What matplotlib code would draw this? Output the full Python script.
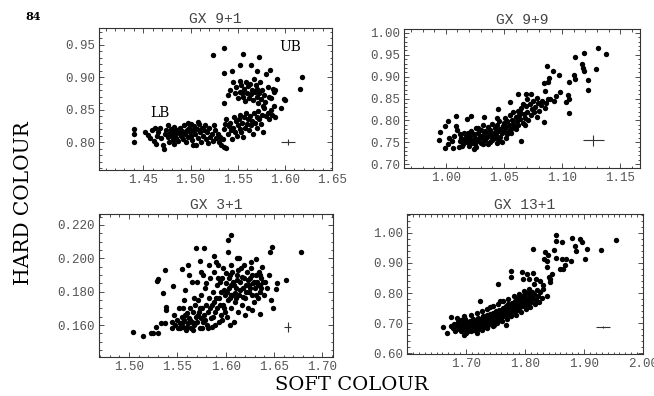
import numpy as np
import matplotlib
matplotlib.use("Agg")
import matplotlib.pyplot as plt
from matplotlib.ticker import MultipleLocator, FormatStrFormatter

# ---------------- data ----------------
gx91_soft = [1.440, 1.440, 1.440, 1.452, 1.455, 1.457, 1.459, 1.461, 1.463, 1.465,
             1.466, 1.468, 1.469, 1.471, 1.472, 1.473, 1.474, 1.476, 1.477, 1.478,
             1.479, 1.480, 1.481, 1.482, 1.483, 1.484, 1.485, 1.486, 1.487, 1.488,
             1.489, 1.490, 1.491, 1.492, 1.493, 1.494, 1.495, 1.496, 1.497, 1.498,
             1.499, 1.500, 1.501, 1.502, 1.503, 1.504, 1.505, 1.506, 1.507, 1.508,
             1.509, 1.510, 1.511, 1.512, 1.513, 1.514, 1.515, 1.516, 1.518, 1.520,
             1.521, 1.523, 1.524, 1.526, 1.527, 1.529, 1.530, 1.531, 1.532, 1.534,
             1.535, 1.538, 1.476, 1.482, 1.497, 1.503, 1.508, 1.519, 1.525, 1.462,
             1.535, 1.537, 1.538, 1.540, 1.541, 1.542, 1.543, 1.544, 1.545, 1.546,
             1.547, 1.548, 1.549, 1.550, 1.551, 1.552, 1.553, 1.554, 1.555, 1.556,
             1.557, 1.558, 1.559, 1.560, 1.561, 1.562, 1.563, 1.564, 1.565, 1.566,
             1.567, 1.568, 1.570, 1.571, 1.572, 1.573, 1.575, 1.576, 1.577, 1.578,
             1.580, 1.582, 1.583, 1.585, 1.586, 1.588, 1.590,
             1.535, 1.535, 1.544, 1.540, 1.542, 1.545, 1.547, 1.548, 1.550, 1.552,
             1.553, 1.554, 1.555, 1.556, 1.557, 1.558, 1.559, 1.560, 1.561, 1.562,
             1.563, 1.564, 1.565, 1.566, 1.567, 1.568, 1.569, 1.570, 1.571, 1.572,
             1.573, 1.574, 1.575, 1.576, 1.577, 1.578, 1.579, 1.580, 1.582, 1.583,
             1.585, 1.588, 1.590, 1.592, 1.596, 1.599, 1.600, 1.552, 1.564, 1.570,
             1.584, 1.524, 1.536, 1.556, 1.573, 1.616, 1.618, 1.587]
gx91_hard = [0.820, 0.813, 0.800, 0.815, 0.811, 0.806, 0.818, 0.802, 0.797, 0.810,
             0.816, 0.822, 0.806, 0.795, 0.790, 0.812, 0.818, 0.808, 0.800, 0.814,
             0.820, 0.810, 0.804, 0.816, 0.824, 0.812, 0.807, 0.819, 0.802, 0.814,
             0.822, 0.810, 0.817, 0.805, 0.826, 0.812, 0.800, 0.818, 0.808, 0.822,
             0.815, 0.828, 0.810, 0.803, 0.818, 0.825, 0.812, 0.795, 0.820, 0.807,
             0.828, 0.815, 0.800, 0.822, 0.810, 0.818, 0.826, 0.805, 0.815, 0.822,
             0.808, 0.812, 0.802, 0.818, 0.806, 0.812, 0.800, 0.808, 0.795, 0.805,
             0.792, 0.791, 0.826, 0.797, 0.830, 0.795, 0.831, 0.798, 0.826, 0.822,
             0.820, 0.828, 0.835, 0.812, 0.825, 0.830, 0.818, 0.805, 0.822, 0.838,
             0.815, 0.832, 0.810, 0.826, 0.836, 0.820, 0.842, 0.815, 0.830, 0.808,
             0.838, 0.822, 0.845, 0.828, 0.835, 0.818, 0.840, 0.826, 0.832, 0.812,
             0.845, 0.830, 0.838, 0.822, 0.848, 0.835, 0.828, 0.842, 0.815, 0.852,
             0.840, 0.845, 0.835, 0.850, 0.842, 0.856, 0.838,
             0.861, 0.907, 0.910, 0.872, 0.880, 0.892, 0.875, 0.885, 0.868, 0.878,
             0.895, 0.888, 0.875, 0.870, 0.882, 0.863, 0.893, 0.876, 0.886, 0.868,
             0.890, 0.874, 0.880, 0.865, 0.898, 0.878, 0.888, 0.870, 0.882, 0.860,
             0.875, 0.892, 0.866, 0.880, 0.856, 0.872, 0.862, 0.905, 0.885, 0.870,
             0.868, 0.878, 0.880, 0.898, 0.852, 0.866, 0.865, 0.919, 0.919, 0.910,
             0.911, 0.935, 0.945, 0.936, 0.932, 0.882, 0.900, 0.882]

gx99_soft = [0.994, 0.995, 0.999, 1.002, 0.999, 1.002, 1.006, 1.011, 1.007, 1.009,
             1.009, 1.012, 1.018, 1.022, 1.033, 1.045, 1.055, 1.062, 1.069, 1.073,
             1.065, 1.084, 1.087, 1.092, 1.097, 1.088, 1.089, 1.085, 1.098, 1.095,
             1.093, 1.105, 1.106, 1.103, 1.106, 1.110, 1.111, 1.106, 1.111, 1.117,
             1.119, 1.118, 1.119, 1.122, 1.122, 1.131, 1.129, 1.138, 1.084, 1.090,
             1.015, 1.016, 1.017, 1.018, 1.019, 1.020, 1.020, 1.021, 1.022, 1.022,
             1.023, 1.024, 1.025, 1.025, 1.026, 1.027, 1.028, 1.028, 1.029, 1.030,
             1.030, 1.031, 1.032, 1.033, 1.034, 1.034, 1.035, 1.036, 1.037, 1.038,
             1.038, 1.039, 1.040, 1.041, 1.042, 1.042, 1.043, 1.044, 1.045, 1.046,
             1.046, 1.047, 1.048, 1.049, 1.050, 1.050, 1.051, 1.052, 1.053, 1.053,
             1.054, 1.055, 1.056, 1.057, 1.058, 1.058, 1.059, 1.060, 1.061, 1.062,
             1.062, 1.063, 1.064, 1.065, 1.066, 1.067, 1.068, 1.069, 1.070, 1.071,
             1.072, 1.073, 1.074, 1.075, 1.076, 1.077, 1.078, 1.079, 1.080, 1.082,
             1.083, 1.085, 1.086, 1.088, 1.012, 1.013, 1.014, 1.016, 1.024, 1.028,
             1.036, 1.040, 1.044, 1.048, 1.052, 1.056, 1.060, 1.064, 1.068, 1.047,
             1.003, 1.005, 1.010, 1.026, 1.032, 1.044, 1.054, 1.066, 1.070, 1.078]
gx99_hard = [0.756, 0.773, 0.788, 0.798, 0.737, 0.747, 0.737, 0.739, 0.765, 0.788,
             0.811, 0.768, 0.803, 0.811, 0.808, 0.825, 0.842, 0.861, 0.861, 0.861,
             0.752, 0.796, 0.925, 0.914, 0.903, 0.887, 0.897, 0.867, 0.864, 0.855,
             0.844, 0.859, 0.848, 0.842, 0.816, 0.903, 0.895, 0.887, 0.945, 0.930,
             0.954, 0.920, 0.913, 0.892, 0.869, 0.966, 0.918, 0.951, 0.886, 0.850,
             0.745, 0.755, 0.762, 0.750, 0.770, 0.742, 0.758, 0.765, 0.748, 0.776,
             0.755, 0.768, 0.745, 0.760, 0.782, 0.752, 0.770, 0.758, 0.765, 0.748,
             0.778, 0.760, 0.790, 0.768, 0.755, 0.775, 0.762, 0.785, 0.770, 0.750,
             0.778, 0.765, 0.792, 0.772, 0.760, 0.782, 0.768, 0.790, 0.775, 0.758,
             0.798, 0.780, 0.770, 0.788, 0.795, 0.775, 0.805, 0.785, 0.768, 0.798,
             0.790, 0.812, 0.780, 0.800, 0.792, 0.818, 0.785, 0.808, 0.798, 0.822,
             0.790, 0.812, 0.802, 0.828, 0.795, 0.815, 0.806, 0.832, 0.820, 0.800,
             0.838, 0.812, 0.825, 0.845, 0.818, 0.830, 0.808, 0.840, 0.822, 0.835,
             0.845, 0.828, 0.840, 0.850, 0.752, 0.760, 0.742, 0.772, 0.735, 0.782,
             0.745, 0.755, 0.805, 0.750, 0.760, 0.770, 0.780, 0.818, 0.790, 0.762,
             0.760, 0.752, 0.778, 0.740, 0.745, 0.748, 0.776, 0.838, 0.850, 0.852]

gx31_soft = [1.5045, 1.514, 1.523, 1.525, 1.5275, 1.530, 1.5285, 1.5295, 1.537, 1.535,
             1.538, 1.538, 1.5335, 1.537, 1.546, 1.545, 1.555, 1.556, 1.557, 1.561,
             1.569, 1.578, 1.5735, 1.588, 1.606, 1.602, 1.602, 1.612, 1.631, 1.646,
             1.648, 1.6775, 1.662, 1.653, 1.652, 1.649, 1.636, 1.627, 1.565, 1.580,
             1.548, 1.550, 1.551, 1.553, 1.555, 1.556, 1.557, 1.559, 1.560, 1.561,
             1.562, 1.563, 1.564, 1.565, 1.566, 1.567, 1.568, 1.569, 1.570, 1.571,
             1.572, 1.573, 1.574, 1.575, 1.576, 1.577, 1.578, 1.579, 1.580, 1.581,
             1.582, 1.583, 1.584, 1.585, 1.586, 1.587, 1.588, 1.589, 1.590, 1.591,
             1.592, 1.593, 1.594, 1.595, 1.596, 1.597, 1.598, 1.599, 1.600, 1.601,
             1.602, 1.603, 1.604, 1.605, 1.606, 1.607, 1.608, 1.609, 1.610, 1.611,
             1.612, 1.613, 1.614, 1.615, 1.616, 1.617, 1.618, 1.619, 1.620, 1.621,
             1.622, 1.623, 1.624, 1.625, 1.626, 1.627, 1.628, 1.629, 1.630, 1.631,
             1.632, 1.633, 1.634, 1.635, 1.636, 1.637, 1.638, 1.640, 1.641, 1.643,
             1.645, 1.647, 1.558, 1.562, 1.570, 1.574, 1.583, 1.590, 1.596, 1.604,
             1.544, 1.547, 1.552, 1.567, 1.577, 1.586, 1.592, 1.614, 1.620, 1.626,
             1.598, 1.606, 1.610, 1.600, 1.612, 1.618, 1.604, 1.594, 1.588, 1.624,
             1.553, 1.556, 1.558, 1.560, 1.563, 1.566, 1.568, 1.571, 1.573, 1.576,
             1.579, 1.582, 1.584, 1.587, 1.589, 1.591, 1.593, 1.595, 1.597, 1.599,
             1.601, 1.603, 1.605, 1.607, 1.609, 1.611, 1.613, 1.615, 1.617, 1.619,
             1.621, 1.623, 1.625, 1.627, 1.629, 1.631, 1.633, 1.635, 1.637, 1.639]
gx31_hard = [0.1560, 0.1536, 0.1555, 0.1550, 0.1590, 0.1555, 0.1866, 0.1874, 0.1930, 0.1790,
             0.1706, 0.1690, 0.1610, 0.1610, 0.1836, 0.1620, 0.1936, 0.1700, 0.1750, 0.1960,
             0.2060, 0.2060, 0.1984, 0.2014, 0.2140, 0.2110, 0.2040, 0.2000, 0.1994, 0.2040,
             0.2070, 0.2040, 0.1870, 0.1850, 0.1814, 0.1704, 0.1664, 0.1690, 0.1860, 0.1850,
             0.160, 0.163, 0.158, 0.161, 0.165, 0.159, 0.163, 0.157, 0.167, 0.161,
             0.164, 0.170, 0.158, 0.162, 0.168, 0.160, 0.172, 0.165, 0.162, 0.175,
             0.168, 0.158, 0.164, 0.178, 0.170, 0.162, 0.166, 0.182, 0.172, 0.160,
             0.168, 0.176, 0.188, 0.164, 0.172, 0.180, 0.192, 0.168, 0.176, 0.184,
             0.196, 0.162, 0.172, 0.180, 0.188, 0.194, 0.170, 0.178, 0.185, 0.165,
             0.175, 0.182, 0.190, 0.196, 0.170, 0.178, 0.186, 0.162, 0.174, 0.182,
             0.190, 0.168, 0.178, 0.186, 0.194, 0.172, 0.182, 0.188, 0.176, 0.184,
             0.192, 0.170, 0.180, 0.188, 0.194, 0.178, 0.185, 0.174, 0.182, 0.190,
             0.186, 0.176, 0.192, 0.184, 0.180, 0.188, 0.195, 0.178, 0.186, 0.182,
             0.190, 0.175, 0.181, 0.190, 0.186, 0.192, 0.196, 0.198, 0.163, 0.160,
             0.158, 0.166, 0.170, 0.176, 0.190, 0.159, 0.188, 0.200, 0.166, 0.198,
             0.181, 0.184, 0.179, 0.191, 0.187, 0.177, 0.176, 0.186, 0.174, 0.184,
             0.158, 0.162, 0.166, 0.159, 0.163, 0.157, 0.161, 0.166, 0.170, 0.158,
             0.163, 0.158, 0.170, 0.165, 0.160, 0.170, 0.176, 0.166, 0.172, 0.168,
             0.180, 0.188, 0.178, 0.192, 0.184, 0.176, 0.193, 0.181, 0.189, 0.196,
             0.180, 0.187, 0.182, 0.190, 0.186, 0.178, 0.184, 0.190, 0.182, 0.186]

gx131_soft = [1.852, 1.853, 1.863, 1.880, 1.894, 1.897, 1.884, 1.887, 1.905, 1.902,
              1.929, 1.955, 1.813, 1.834, 1.839, 1.849, 1.832, 1.838, 1.852, 1.862,
              1.869, 1.878, 1.860, 1.864, 1.8685, 1.838, 1.8405, 1.843, 1.842, 1.819,
              1.795, 1.797, 1.804, 1.806, 1.777, 1.776, 1.813, 1.755, 1.838, 1.723,
              1.661, 1.668, 1.696, 1.674, 1.768, 1.748, 1.826, 1.830, 1.815, 1.846,
              1.675, 1.678, 1.680, 1.682, 1.684, 1.686, 1.688, 1.690, 1.691, 1.692,
              1.694, 1.695, 1.696, 1.698, 1.699, 1.700, 1.702, 1.703, 1.704, 1.706,
              1.707, 1.708, 1.710, 1.711, 1.712, 1.713, 1.715, 1.716, 1.717, 1.719,
              1.720, 1.721, 1.722, 1.724, 1.725, 1.726, 1.728, 1.729, 1.730, 1.731,
              1.733, 1.734, 1.735, 1.737, 1.738, 1.739, 1.740, 1.742, 1.743, 1.744,
              1.746, 1.747, 1.748, 1.750, 1.751, 1.752, 1.754, 1.755, 1.756, 1.758,
              1.759, 1.760, 1.762, 1.763, 1.764, 1.766, 1.767, 1.768, 1.770, 1.771,
              1.772, 1.774, 1.775, 1.776, 1.778, 1.779, 1.780, 1.782, 1.783, 1.784,
              1.786, 1.787, 1.788, 1.790, 1.791, 1.792, 1.794, 1.795, 1.796, 1.798,
              1.799, 1.800, 1.802, 1.804, 1.805, 1.806, 1.808, 1.810, 1.812, 1.814,
              1.816, 1.818, 1.820, 1.822, 1.825, 1.828, 1.830, 1.704, 1.714, 1.718,
              1.727, 1.736, 1.745, 1.753, 1.761, 1.769, 1.777, 1.785, 1.793, 1.801,
              1.809, 1.817, 1.824, 1.685, 1.697, 1.709, 1.718, 1.727, 1.736, 1.745,
              1.754, 1.763, 1.772, 1.781, 1.790, 1.798, 1.806, 1.740, 1.757, 1.700]
gx131_hard = [0.992, 0.973, 0.970, 0.983, 0.979, 0.970, 0.958, 0.941, 0.946, 0.912,
              0.943, 0.976, 0.948, 0.935, 0.928, 0.943, 0.913, 0.908, 0.918, 0.912,
              0.912, 0.906, 0.881, 0.879, 0.894, 0.885, 0.852, 0.847, 0.836, 0.848,
              0.870, 0.848, 0.864, 0.848, 0.872, 0.853, 0.868, 0.830, 0.789, 0.774,
              0.686, 0.667, 0.660, 0.719, 0.692, 0.692, 0.840, 0.826, 0.830, 0.862,
              0.690, 0.682, 0.698, 0.675, 0.690, 0.705, 0.680, 0.695, 0.710, 0.672,
              0.688, 0.700, 0.682, 0.694, 0.712, 0.678, 0.690, 0.702, 0.685, 0.696,
              0.708, 0.675, 0.690, 0.700, 0.715, 0.682, 0.695, 0.706, 0.688, 0.700,
              0.718, 0.680, 0.694, 0.705, 0.690, 0.712, 0.698, 0.722, 0.686, 0.704,
              0.714, 0.696, 0.726, 0.706, 0.692, 0.718, 0.730, 0.704, 0.720, 0.712,
              0.735, 0.700, 0.724, 0.714, 0.740, 0.720, 0.732, 0.708, 0.745, 0.726,
              0.738, 0.718, 0.750, 0.730, 0.742, 0.722, 0.756, 0.736, 0.748, 0.728,
              0.762, 0.742, 0.754, 0.735, 0.768, 0.748, 0.760, 0.740, 0.775, 0.755,
              0.766, 0.745, 0.782, 0.760, 0.772, 0.752, 0.788, 0.766, 0.778, 0.758,
              0.794, 0.772, 0.784, 0.764, 0.800, 0.778, 0.790, 0.770, 0.805, 0.785,
              0.796, 0.778, 0.810, 0.790, 0.802, 0.785, 0.812, 0.672, 0.676, 0.668,
              0.676, 0.682, 0.690, 0.700, 0.706, 0.714, 0.722, 0.728, 0.738, 0.748,
              0.755, 0.762, 0.770, 0.718, 0.722, 0.728, 0.735, 0.740, 0.748, 0.758,
              0.765, 0.772, 0.780, 0.790, 0.798, 0.808, 0.815, 0.752, 0.775, 0.668]

titles = ["GX 9+1", "GX 9+9", "GX 3+1", "GX 13+1"]
# typical error bars (x, y, xerr, yerr)
err_91 = (1.603, 0.800, 0.0075, 0.005)
err_99 = (1.127, 0.7546, 0.009, 0.013)
err_31 = (1.664, 0.159, 0.0035, 0.003)
err_131 = (1.932, 0.686, 0.012, 0.003)

# ---------------- figure ----------------
W, H = 654, 396
fig = plt.figure(figsize=(W / 100, H / 100), dpi=100)
fig.patch.set_facecolor("white")

def rect(l, r, t, b):
    return [l / W, 1 - b / H, (r - l) / W, (b - t) / H]

mono = "Liberation Mono"
tickcol = "#555555"

panels = [
    dict(rect=rect(99, 332, 28, 170), x=gx91_soft, y=gx91_hard, err=err_91,
         xlim=(1.403, 1.650), ylim=(0.757, 0.976), xmin=0.01, ymin=0.01,
         xfmt="%.2f", yfmt="%.2f",
         xticks=[1.45, 1.50, 1.55, 1.60, 1.65], yticks=[0.80, 0.85, 0.90, 0.95]),
    dict(rect=rect(404, 640, 29, 168), x=gx99_soft, y=gx99_hard, err=err_99,
         xlim=(0.964, 1.167), ylim=(0.691, 1.009), xmin=0.01, ymin=0.01,
         xfmt="%.2f", yfmt="%.2f",
         xticks=[1.00, 1.05, 1.10, 1.15], yticks=[0.70, 0.75, 0.80, 0.85, 0.90, 0.95, 1.00]),
    dict(rect=rect(99, 333, 214, 357), x=gx31_soft, y=gx31_hard, err=err_31,
         xlim=(1.469, 1.711), ylim=(0.1408, 0.2266), xmin=0.01, ymin=0.005,
         xfmt="%.2f", yfmt="%.3f",
         xticks=[1.50, 1.55, 1.60, 1.65, 1.70], yticks=[0.160, 0.180, 0.200, 0.220]),
    dict(rect=rect(407, 643, 214, 354), x=gx131_soft, y=gx131_hard, err=err_131,
         xlim=(1.600, 2.000), ylim=(0.597, 1.063), xmin=0.01, ymin=0.02,
         xfmt="%.2f", yfmt="%.2f",
         xticks=[1.70, 1.80, 1.90, 2.00], yticks=[0.60, 0.70, 0.80, 0.90, 1.00]),
]

axes = []
for p, title in zip(panels, titles):
    ax = fig.add_axes(p["rect"])
    ax.scatter(p["x"], p["y"], s=15, c="black", marker="o", linewidths=0, zorder=3)
    ex, ey, exe, eye = p["err"]
    ax.errorbar([ex], [ey], xerr=[exe], yerr=[eye], fmt="none", ecolor="#333333",
                elinewidth=0.8, capsize=0)
    ax.set_xlim(*p["xlim"])
    ax.set_ylim(*p["ylim"])
    ax.set_xticks(p["xticks"])
    ax.set_yticks(p["yticks"])
    ax.xaxis.set_minor_locator(MultipleLocator(p["xmin"]))
    ax.yaxis.set_minor_locator(MultipleLocator(p["ymin"]))
    ax.xaxis.set_major_formatter(FormatStrFormatter(p["xfmt"]))
    ax.yaxis.set_major_formatter(FormatStrFormatter(p["yfmt"]))
    ax.tick_params(which="both", direction="in", top=True, right=True,
                   colors="#333333", labelcolor=tickcol, width=0.6)
    ax.tick_params(which="major", length=3.5, labelsize=9, pad=3)
    ax.tick_params(which="minor", length=1.8)
    for lab in ax.get_xticklabels() + ax.get_yticklabels():
        lab.set_fontfamily(mono)
    for sp in ax.spines.values():
        sp.set_linewidth(0.8)
        sp.set_color("#333333")
    ax.set_title(title, fontfamily=mono, fontsize=10.5, color="#444444", pad=3.5)
    axes.append(ax)

axes[0].text(1.468, 0.845, "LB", fontfamily="DejaVu Serif", fontsize=10, ha="center", va="center")
axes[0].text(1.606, 0.947, "UB", fontfamily="DejaVu Serif", fontsize=10, ha="center", va="center")

fig.text(24 / W, 1 - 203 / H, "HARD COLOUR", rotation=90, ha="center", va="center",
         fontfamily="DejaVu Serif", fontsize=14.5)
fig.text(352 / W, 1 - 385 / H, "SOFT COLOUR", ha="center", va="center",
         fontfamily="DejaVu Serif", fontsize=14)
fig.text(33 / W, 1 - 16 / H, "84", ha="center", va="center",
         fontfamily="DejaVu Serif", fontsize=8, fontweight="bold")

fig.savefig("out.png", dpi=100)
